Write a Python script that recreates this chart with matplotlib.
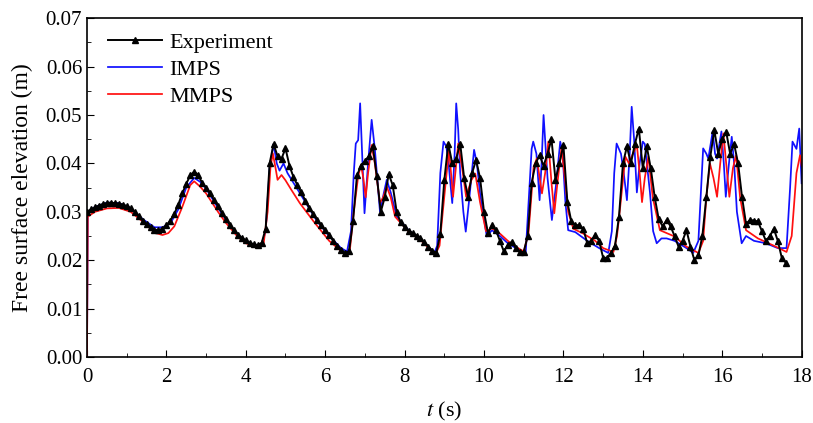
import matplotlib
matplotlib.use("Agg")
import matplotlib.pyplot as plt
from matplotlib.ticker import MultipleLocator, FormatStrFormatter

plt.rcParams['font.family'] = ['Liberation Serif', 'DejaVu Serif']
plt.rcParams['mathtext.fontset'] = 'stix'

# experiment, sampled every 0.1 s from t = 0 to 17.6 s
exp_t = [round(0.1 * i, 1) for i in range(177)]
exp_h = [0.0300, 0.0305, 0.0309, 0.0313, 0.0316, 0.0318, 0.0319, 0.0318, 0.0317, 0.0315,
         0.0312, 0.0307, 0.0300, 0.0291, 0.0282, 0.0274, 0.0268, 0.0263, 0.0262, 0.0265,
         0.0272, 0.0282, 0.0296, 0.0315, 0.0338, 0.0358, 0.0375, 0.0383, 0.0376, 0.0360,
         0.0350, 0.0338, 0.0325, 0.0312, 0.0298, 0.0285, 0.0273, 0.0262, 0.0253, 0.0246,
         0.0241, 0.0236, 0.0233, 0.0231, 0.0236, 0.0265, 0.0400, 0.0440, 0.0415, 0.0410,
         0.0431, 0.0395, 0.0372, 0.0355, 0.0340, 0.0323, 0.0308, 0.0295, 0.0283, 0.0272,
         0.0262, 0.0253, 0.0240, 0.0230, 0.0221, 0.0215, 0.0218, 0.0280, 0.0375, 0.0395,
         0.0405, 0.0415, 0.0435, 0.0373, 0.0300, 0.0330, 0.0378, 0.0355, 0.0300, 0.0278,
         0.0268, 0.0261, 0.0256, 0.0251, 0.0246, 0.0237, 0.0228, 0.0220, 0.0215, 0.0255,
         0.0365, 0.0441, 0.0400, 0.0410, 0.0441, 0.0370, 0.0330, 0.0380, 0.0407, 0.0370,
         0.0300, 0.0256, 0.0272, 0.0262, 0.0240, 0.0218, 0.0232, 0.0238, 0.0225, 0.0217,
         0.0217, 0.0250, 0.0360, 0.0400, 0.0417, 0.0395, 0.0420, 0.0450, 0.0366, 0.0400,
         0.0438, 0.0320, 0.0280, 0.0273, 0.0272, 0.0265, 0.0235, 0.0240, 0.0252, 0.0240,
         0.0205, 0.0205, 0.0215, 0.0230, 0.0290, 0.0400, 0.0435, 0.0400, 0.0440, 0.0472,
         0.0390, 0.0435, 0.0390, 0.0330, 0.0285, 0.0270, 0.0283, 0.0270, 0.0250, 0.0228,
         0.0240, 0.0262, 0.0228, 0.0200, 0.0210, 0.0250, 0.0330, 0.0414, 0.0469, 0.0420,
         0.0450, 0.0465, 0.0420, 0.0440, 0.0400, 0.0330, 0.0275, 0.0283, 0.0282, 0.0280,
         0.0260, 0.0240, 0.0250, 0.0265, 0.0240, 0.0205, 0.0195]

imps_t = [0.0, 0.02, 0.2, 0.5, 0.8, 1.1, 1.4, 1.7, 1.9, 2.1, 2.3, 2.5, 2.7, 2.85, 3.0, 3.3,
          3.6, 3.9, 4.2, 4.4, 4.5, 4.6, 4.7, 4.78, 4.85, 4.95, 5.05, 5.2, 5.5, 5.8, 6.1, 6.4,
          6.55, 6.65, 6.72, 6.77, 6.83, 6.88, 6.93, 6.99, 7.08, 7.17, 7.25, 7.3, 7.38, 7.48,
          7.55, 7.65, 7.8, 8.1, 8.45, 8.75, 8.82, 8.9, 8.98, 9.05, 9.1, 9.2, 9.26, 9.3, 9.35,
          9.4, 9.48, 9.54, 9.62, 9.75, 9.82, 9.9, 10.07, 10.2, 10.4, 10.6, 10.8, 11.05, 11.13,
          11.2, 11.24, 11.32, 11.4, 11.45, 11.5, 11.56, 11.6, 11.71, 11.82, 11.92, 11.98,
          12.05, 12.12, 12.3, 12.6, 12.9, 13.13, 13.22, 13.28, 13.34, 13.45, 13.52, 13.6,
          13.67, 13.72, 13.78, 13.85, 13.92, 14.0, 14.05, 14.18, 14.26, 14.35, 14.47, 14.6,
          14.8, 15.1, 15.27, 15.4, 15.47, 15.52, 15.6, 15.65, 15.76, 15.82, 15.87, 15.98,
          16.04, 16.09, 16.17, 16.24, 16.3, 16.37, 16.49, 16.6, 16.8, 17.1, 17.4, 17.62,
          17.71, 17.77, 17.87, 17.94, 18.0]
imps_h = [0.0, 0.0300, 0.0310, 0.0319, 0.0318, 0.0308, 0.0285, 0.0268, 0.0268, 0.0276,
          0.0305, 0.0350, 0.0370, 0.0362, 0.0348, 0.0308, 0.0272, 0.0245, 0.0231, 0.0233,
          0.0260, 0.0390, 0.0440, 0.0400, 0.0385, 0.0400, 0.0380, 0.0360, 0.0320, 0.0280,
          0.0250, 0.0225, 0.0218, 0.0260, 0.0380, 0.0441, 0.0448, 0.0524, 0.0420, 0.0297,
          0.0400, 0.0490, 0.0430, 0.0379, 0.0300, 0.0340, 0.0366, 0.0340, 0.0290, 0.0262,
          0.0240, 0.0215, 0.0230, 0.0380, 0.0445, 0.0435, 0.0407, 0.0318, 0.0420, 0.0524,
          0.0470, 0.0380, 0.0300, 0.0259, 0.0320, 0.0428, 0.0400, 0.0338, 0.0249, 0.0262,
          0.0250, 0.0235, 0.0225, 0.0215, 0.0330, 0.0430, 0.0445, 0.0420, 0.0324, 0.0400,
          0.0500, 0.0420, 0.0370, 0.0283, 0.0360, 0.0445, 0.0420, 0.0320, 0.0262, 0.0258,
          0.0240, 0.0225, 0.0215, 0.0260, 0.0380, 0.0441, 0.0420, 0.0380, 0.0324, 0.0420,
          0.0517, 0.0450, 0.0340, 0.0400, 0.0445, 0.0440, 0.0340, 0.0260, 0.0235, 0.0245,
          0.0245, 0.0240, 0.0225, 0.0215, 0.0240, 0.0350, 0.0431, 0.0420, 0.0410, 0.0466,
          0.0420, 0.0410, 0.0466, 0.0400, 0.0331, 0.0400, 0.0455, 0.0400, 0.0300, 0.0235,
          0.0250, 0.0240, 0.0235, 0.0225, 0.0225, 0.0350, 0.0445, 0.0430, 0.0472, 0.0359]

mmps_t = [0.0, 0.02, 0.2, 0.5, 0.8, 1.1, 1.4, 1.7, 1.9, 2.05, 2.2, 2.4, 2.6, 2.7, 2.85, 3.0,
          3.3, 3.5, 3.8, 4.0, 4.3, 4.45, 4.55, 4.62, 4.68, 4.75, 4.8, 4.9, 5.0, 5.15, 5.36,
          5.7, 6.1, 6.5, 6.62, 6.72, 6.83, 6.9, 6.96, 7.02, 7.08, 7.17, 7.25, 7.38, 7.46,
          7.55, 7.65, 7.76, 8.1, 8.45, 8.77, 8.88, 8.95, 9.05, 9.12, 9.22, 9.35, 9.45, 9.55,
          9.68, 9.78, 9.9, 10.05, 10.2, 10.4, 10.6, 10.8, 11.0, 11.12, 11.25, 11.33, 11.46,
          11.54, 11.62, 11.7, 11.77, 11.85, 11.95, 12.05, 12.12, 12.25, 12.5, 12.8, 13.0,
          13.26, 13.35, 13.43, 13.56, 13.65, 13.75, 13.85, 13.92, 13.98, 14.05, 14.14, 14.25,
          14.43, 14.8, 15.1, 15.4, 15.52, 15.6, 15.69, 15.78, 15.87, 15.95, 16.03, 16.1,
          16.18, 16.27, 16.35, 16.45, 16.6, 16.9, 17.3, 17.62, 17.75, 17.87, 17.96, 18.0]
mmps_h = [0.0, 0.0290, 0.0300, 0.0307, 0.0308, 0.0300, 0.0280, 0.0257, 0.0252, 0.0256,
          0.0270, 0.0310, 0.0355, 0.0363, 0.0352, 0.0338, 0.0300, 0.0277, 0.0248, 0.0235,
          0.0227, 0.0235, 0.0300, 0.0390, 0.0421, 0.0390, 0.0366, 0.0376, 0.0365, 0.0345,
          0.0318, 0.0281, 0.0240, 0.0212, 0.0220, 0.0300, 0.0373, 0.0397, 0.0370, 0.0330,
          0.0380, 0.0438, 0.0400, 0.0318, 0.0330, 0.0352, 0.0330, 0.0290, 0.0259, 0.0238,
          0.0211, 0.0230, 0.0290, 0.0373, 0.0428, 0.0331, 0.0441, 0.0390, 0.0331, 0.0365,
          0.0379, 0.0320, 0.0260, 0.0266, 0.0255, 0.0240, 0.0228, 0.0218, 0.0255, 0.0393,
          0.0410, 0.0338, 0.0380, 0.0445, 0.0360, 0.0297, 0.0360, 0.0431, 0.0360, 0.0300,
          0.0265, 0.0255, 0.0240, 0.0225, 0.0217, 0.0250, 0.0310, 0.0414, 0.0400, 0.0420,
          0.0438, 0.0380, 0.0320, 0.0370, 0.0414, 0.0330, 0.0262, 0.0249, 0.0228, 0.0215,
          0.0240, 0.0330, 0.0400, 0.0370, 0.0331, 0.0400, 0.0462, 0.0400, 0.0331, 0.0390,
          0.0417, 0.0330, 0.0262, 0.0245, 0.0230, 0.0217, 0.0250, 0.0380, 0.0417, 0.0395]

fig = plt.figure(figsize=(8.13, 4.23), dpi=100)
ax = fig.add_axes([0.107, 0.156, 0.879, 0.801])

ax.plot(exp_t, exp_h, color='black', lw=1.4, marker='^', ms=5, label='Experiment', zorder=3)
ax.plot(imps_t, imps_h, color='#1010ff', lw=1.25, label='IMPS', zorder=2)
ax.plot(mmps_t, mmps_h, color='#ff1010', lw=1.25, label='MMPS', zorder=2.5)

ax.set_xlim(0, 18)
ax.set_ylim(0, 0.07)
ax.xaxis.set_major_locator(MultipleLocator(2))
ax.xaxis.set_minor_locator(MultipleLocator(1))
ax.yaxis.set_major_locator(MultipleLocator(0.01))
ax.yaxis.set_minor_locator(MultipleLocator(0.005))
ax.yaxis.set_major_formatter(FormatStrFormatter('%.2f'))
ax.tick_params(which='both', direction='in', labelsize=15, top=False, right=False)
ax.tick_params(which='major', length=5)
ax.tick_params(which='minor', length=3)
ax.tick_params(axis='x', pad=8)
for s in ax.spines.values():
    s.set_linewidth(1.2)

ax.set_ylabel('Free surface elevation (m)', fontsize=17, labelpad=9)
ax.set_xlabel('$t$ (s)', fontsize=16, labelpad=9)

ax.legend(loc='upper left', bbox_to_anchor=(0.017, 0.985), borderaxespad=0,
          frameon=False, fontsize=16, handlelength=2.45, handletextpad=0.3,
          labelspacing=0.3)

fig.savefig('out.png', dpi=100)
